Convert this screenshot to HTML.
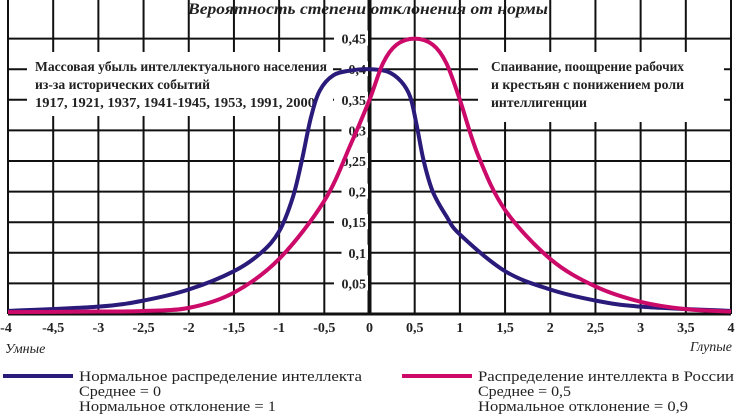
<!DOCTYPE html>
<html><head><meta charset="utf-8"><style>
body{margin:0;background:#fff;width:736px;height:415px;overflow:hidden}
svg{display:block}
text{font-family:"Liberation Serif","DejaVu Serif",serif}
</style></head><body>
<svg id="s" width="736" height="415" xmlns="http://www.w3.org/2000/svg">
<text x="188" y="14" textLength="360" lengthAdjust="spacingAndGlyphs" font-size="16" font-weight="bold" font-style="italic" fill="#222">Вероятность степени отклонения от нормы</text>
<g id="grid" stroke="#111" stroke-width="2"></g>
<rect x="27" y="52" width="306" height="64" fill="#fff"/>
<rect x="478" y="52" width="246" height="70" fill="#fff"/>
<g font-size="13.5" font-weight="bold" fill="#222" lengthAdjust="spacingAndGlyphs">
<text x="35" y="71" textLength="292" lengthAdjust="spacingAndGlyphs">Массовая убыль интеллектуального населения</text>
<text x="35" y="89" textLength="175" lengthAdjust="spacingAndGlyphs">из-за исторических событий</text>
<text x="35" y="107" textLength="280" lengthAdjust="spacingAndGlyphs">1917, 1921, 1937, 1941-1945, 1953, 1991, 2000</text>
<text x="491" y="71" textLength="193" lengthAdjust="spacingAndGlyphs">Спаивание, поощрение рабочих</text>
<text x="491" y="89" textLength="193" lengthAdjust="spacingAndGlyphs">и крестьян с понижением роли</text>
<text x="491" y="107" textLength="96" lengthAdjust="spacingAndGlyphs">интеллигенции</text>
</g>
<g id="yl" font-size="14" font-weight="bold" fill="#222" text-anchor="end"></g>
<path id="blue" fill="none" stroke="#2a1a7a" stroke-width="4"/>
<path id="pink" fill="none" stroke="#cc0a6a" stroke-width="4"/>
<g id="xl" font-size="14" font-weight="bold" fill="#222" text-anchor="middle"></g>
<g font-size="14" font-style="italic" fill="#222">
<text x="5" y="353">Умные</text>
<text x="732" y="351" text-anchor="end">Глупые</text>
</g>
<line x1="3" y1="376" x2="73" y2="376" stroke="#2a1a7a" stroke-width="4"/>
<line x1="402" y1="376" x2="472" y2="376" stroke="#cc0a6a" stroke-width="4"/>
<g font-size="15" fill="#222">
<text x="79" y="381" textLength="283" lengthAdjust="spacingAndGlyphs">Нормальное распределение интеллекта</text>
<text x="79" y="396" textLength="82" lengthAdjust="spacingAndGlyphs">Среднее = 0</text>
<text x="79" y="411" textLength="197" lengthAdjust="spacingAndGlyphs">Нормальное отклонение = 1</text>
<text x="478" y="381" textLength="256" lengthAdjust="spacingAndGlyphs">Распределение интеллекта в России</text>
<text x="478" y="396" textLength="93" lengthAdjust="spacingAndGlyphs">Среднее = 0,5</text>
<text x="478" y="411" textLength="210" lengthAdjust="spacingAndGlyphs">Нормальное отклонение = 0,9</text>
</g>
</svg>
<script>
var X0=8,X1=731,Y0=314,K=30.6/0.05;
function px(x){return X0+(x+4)*(X1-X0)/8}
function py(y){return Y0-y*K}
var g=document.getElementById('grid'),ns="http://www.w3.org/2000/svg";
function ln(a,b,c,d,w){var l=document.createElementNS(ns,'line');l.setAttribute('x1',a);l.setAttribute('y1',b);l.setAttribute('x2',c);l.setAttribute('y2',d);if(w)l.setAttribute('stroke-width',w);g.appendChild(l)}
var top=py(0.45);
for(var i=0;i<=16;i++){var x=px(-4+i*0.5);ln(x,top,x,Y0,(i==8)?4:2)}
for(var j=0;j<=9;j++){var y=py(j*0.05);ln(X0,y,X1,y,(j==0)?3:2)}
var yl=document.getElementById('yl');
var labs=["0,05","0,1","0,15","0,2","0,25","0,3","0,35","0,4","0,45"];
labs.forEach(function(t,k){var y=py((k+1)*0.05);var r=document.createElementNS(ns,'rect');var w=t.length*7.5+4;r.setAttribute('x',368-w);r.setAttribute('y',y-8);r.setAttribute('width',w);r.setAttribute('height',15);r.setAttribute('fill','#fff');yl.appendChild(r);var e=document.createElementNS(ns,'text');e.setAttribute('x',366);e.setAttribute('y',y+5);e.textContent=t;yl.appendChild(e)});
var xl=document.getElementById('xl');
var xs=["-4","-4,5","-3","-2,5","-2","-1,5","-1","-0,5","0","0,5","1","1,5","2","2,5","3","3,5","4"];
xs.forEach(function(t,k){var e=document.createElementNS(ns,'text');var x=px(-4+k*0.5);if(k==0)x=6;if(k==16)x=731;e.setAttribute('x',x);e.setAttribute('y',332);e.textContent=t;xl.appendChild(e)});
function cr(p){var q=p.map(function(a){return[px(a[0]),py(a[1])]});var d="M"+q[0][0]+","+q[0][1];for(var i=0;i<q.length-1;i++){var p0=q[i-1]||q[i],p1=q[i],p2=q[i+1],p3=q[i+2]||q[i+1];d+=" C"+(p1[0]+(p2[0]-p0[0])/6)+","+(p1[1]+(p2[1]-p0[1])/6)+" "+(p2[0]-(p3[0]-p1[0])/6)+","+(p2[1]-(p3[1]-p1[1])/6)+" "+p2[0]+","+p2[1]}return d}
document.getElementById('blue').setAttribute('d',cr([[-4,0.005],[-3,0.012],[-2.5,0.022],[-2,0.04],[-1.5,0.07],[-1.2,0.1],[-1,0.135],[-0.85,0.19],[-0.75,0.25],[-0.65,0.32],[-0.55,0.365],[-0.4,0.39],[-0.2,0.398],[0,0.4],[0.2,0.396],[0.35,0.38],[0.45,0.355],[0.52,0.31],[0.6,0.25],[0.7,0.2],[0.85,0.16],[1,0.13],[1.5,0.07],[2,0.04],[2.5,0.022],[3,0.012],[4,0.005]]));
document.getElementById('pink').setAttribute('d',cr([[-4,0.003],[-3,0.004],[-2.5,0.005],[-2,0.01],[-1.5,0.035],[-1,0.09],[-0.5,0.185],[-0.2,0.28],[0,0.35],[0.15,0.41],[0.3,0.44],[0.5,0.45],[0.7,0.44],[0.85,0.41],[1,0.35],[1.2,0.26],[1.5,0.17],[2,0.09],[2.5,0.045],[3,0.02],[3.5,0.008],[4,0.004]]));
</script>
</body></html>
